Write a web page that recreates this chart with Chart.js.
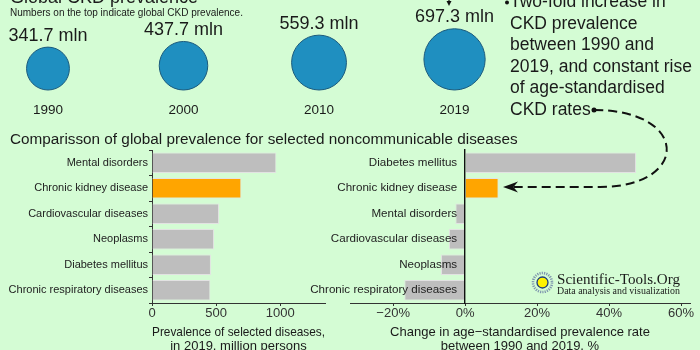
<!DOCTYPE html>
<html lang="en">
<head>
<meta charset="UTF-8" />
<title>Global CKD prevalence</title>
<script src="https://cdn.jsdelivr.net/npm/chart.js@4.4.1/dist/chart.umd.min.js"></script>
<style>
  html, body { margin: 0; padding: 0; }
  body {
    width: 700px; height: 350px; overflow: hidden; position: relative;
    background: #d4fcd4;
    font-family: "Liberation Sans", Arial, sans-serif;
  }
  canvas, svg { position: absolute; }
  #bubbles { left: 0; top: 0; }
  #prevalence { left: 0; top: 140px; }
  #change { left: 300px; top: 140px; }
  #overlay { left: 0; top: 0; pointer-events: none; }
  svg text { font-family: "Liberation Sans", Arial, sans-serif; fill: #1a1a1a; }
</style>
</head>
<body>
<canvas id="bubbles" width="520" height="125"></canvas>
<canvas id="prevalence" width="340" height="215"></canvas>
<canvas id="change" width="400" height="215"></canvas>

<svg id="overlay" width="700" height="350">
  <text x="10" y="3" font-size="18">Global CKD prevalence</text>
  <text x="10" y="15.5" font-size="10">Numbers on the top indicate global CKD prevalence.</text>

  <!-- arrow into the 2019 label -->
  <line x1="449" y1="-4" x2="449" y2="2" stroke="#111" stroke-width="1.2" />
  <polygon points="446.5,1 451.5,1 449,6" fill="#111" />

  <circle cx="507" cy="2.5" r="2" fill="#111" />
  <g font-size="17.5">
    <text x="510" y="7">Two-fold increase in</text>
    <text x="510" y="28.6">CKD prevalence</text>
    <text x="510" y="50.2">between 1990 and</text>
    <text x="510" y="71.8">2019, and constant rise</text>
    <text x="510" y="93.4">of age-standardised</text>
    <text x="510" y="115">CKD rates</text>
  </g>
  <circle cx="594" cy="110" r="2.5" fill="#111" />
  <path d="M594,110 C690,110 690,187 600,187 L514,187" fill="none" stroke="#111"
        stroke-width="2" stroke-dasharray="9 5" />
  <polygon points="503,187 518,181.5 513.5,187 518,192.5" fill="#111" />

  <text x="10" y="143.5" font-size="15.3">Comparisson of global prevalence for selected noncommunicable diseases</text>

  <!-- logo -->
  <circle cx="542.5" cy="282.5" r="9.5" fill="none" stroke="#7d93ad" stroke-width="2.6" stroke-dasharray="1.2 1.1" />
  <circle cx="542.5" cy="282.5" r="5.5" fill="#fff200" stroke="#1f3d7a" stroke-width="1.3" />
  <text x="557" y="284" font-size="15" style="font-family:'Liberation Serif',serif" textLength="123" lengthAdjust="spacingAndGlyphs">Scientific-Tools.Org</text>
  <text x="557" y="294" font-size="10" style="font-family:'Liberation Serif',serif" textLength="123" lengthAdjust="spacingAndGlyphs">Data analysis and visualization</text>
</svg>

<script>
  // global CKD prevalence, million persons
  const years = ["1990", "2000", "2010", "2019"];
  const ckdPrevalence = [341.7, 437.7, 559.3, 697.3];

  // prevalence in 2019, million persons
  const diseasesByPrevalence = [
    "Mental disorders",
    "Chronic kidney disease",
    "Cardiovascular diseases",
    "Neoplasms",
    "Diabetes mellitus",
    "Chronic respiratory diseases",
  ];
  const prevalence2019 = [970, 697.3, 523, 484, 460, 455];
  const prevalenceTicks = [0, 500, 1000];

  // change in age-standardised prevalence rate 1990-2019, %
  const diseasesByChange = [
    "Diabetes mellitus",
    "Chronic kidney disease",
    "Mental disorders",
    "Cardiovascular diseases",
    "Neoplasms",
    "Chronic respiratory diseases",
  ];
  const rateChange = [47.5, 9.3, -2.7, -4.5, -6.7, -16.9];
  const changeTicks = [-20, 0, 20, 40, 60];

  const FONT = '"Liberation Sans", Arial, sans-serif';
  const highlight = (name) =>
    name === "Chronic kidney disease" ? "#ffa500" : "#bebebe";

  // circles are sized by area and sit on a common baseline
  const bubbleK = 1.16;
  const bubbleBase = 90;
  const radii = ckdPrevalence.map((v) => bubbleK * Math.sqrt(v));

  const bubbleLabels = {
    id: "bubbleLabels",
    afterDatasetsDraw(chart) {
      const ctx = chart.ctx;
      ctx.save();
      ctx.fillStyle = "#1a1a1a";
      ctx.textAlign = "center";
      ctx.textBaseline = "middle";
      chart.getDatasetMeta(0).data.forEach((pt, i) => {
        ctx.font = "18px " + FONT;
        ctx.fillText(ckdPrevalence[i].toFixed(1) + " mln", pt.x, pt.y - radii[i] - 11.5);
        ctx.font = "13.5px " + FONT;
        ctx.fillText(years[i], pt.x, 110.5);
      });
      ctx.restore();
    },
  };

  // category names sit just left of the zero line, on top of the bars
  const zeroLineLabels = {
    id: "zeroLineLabels",
    afterDatasetsDraw(chart) {
      const { ctx, scales } = chart;
      const x0 = scales.x.getPixelForValue(0) - 8;
      ctx.save();
      ctx.fillStyle = "#222";
      ctx.font = "11.6px " + FONT;
      ctx.textAlign = "right";
      ctx.textBaseline = "middle";
      chart.data.labels.forEach((name, i) => {
        ctx.fillText(name, x0, scales.y.getPixelForValue(i));
      });
      ctx.restore();
    },
  };

  new Chart(document.getElementById("bubbles"), {
    type: "bubble",
    data: {
      datasets: [
        {
          data: ckdPrevalence.map((v, i) => ({ x: i, y: bubbleBase - radii[i], r: radii[i] })),
          backgroundColor: "#1f8fc0",
          borderColor: "#1b5a7c",
          borderWidth: 1,
          clip: false,
        },
      ],
    },
    options: {
      responsive: false,
      animation: false,
      events: [],
      layout: { padding: 0, autoPadding: false },
      plugins: { legend: { display: false }, tooltip: { enabled: false } },
      scales: {
        x: { type: "linear", display: false, min: -0.354, max: 3.483 },
        y: { type: "linear", display: false, min: 0, max: 125, reverse: true },
      },
    },
    plugins: [bubbleLabels],
  });

  function axisCommon(extra) {
    return Object.assign(
      {
        grid: { drawOnChartArea: false, tickLength: 3, color: "#333" },
        border: { color: "#333", width: 1 },
      },
      extra
    );
  }

  new Chart(document.getElementById("prevalence"), {
    type: "bar",
    data: {
      labels: diseasesByPrevalence,
      datasets: [
        {
          data: prevalence2019,
          backgroundColor: diseasesByPrevalence.map(highlight),
          borderColor: "#e2e2e2",
          borderWidth: 1,
          barPercentage: 0.8,
          categoryPercentage: 1,
        },
      ],
    },
    options: {
      indexAxis: "y",
      responsive: false,
      animation: false,
      events: [],
      layout: { padding: { top: 10, right: 15, left: 0, bottom: 0 } },
      plugins: { legend: { display: false }, tooltip: { enabled: false } },
      scales: {
        x: axisCommon({
          min: 0,
          max: 1350,
          afterBuildTicks: (s) => { s.ticks = prevalenceTicks.map((v) => ({ value: v })); },
          afterFit: (s) => { s.height = 52; },
          ticks: {
            padding: 0,
            color: "#333",
            font: { family: FONT, size: 13 },
            callback: (v) => String(v),
          },
          title: {
            display: true,
            text: ["Prevalence of selected diseases,", "in 2019, million persons"],
            color: "#1a1a1a",
            font: { family: FONT, size: 13, lineHeight: 1.1 },
            padding: { top: 0, bottom: 1 },
          },
        }),
        y: axisCommon({
          afterFit: (s) => { s.width = 152; },
          ticks: { padding: 1, color: "#222", font: { family: FONT, size: 11 } },
        }),
      },
    },
  });

  new Chart(document.getElementById("change"), {
    type: "bar",
    data: {
      labels: diseasesByChange,
      datasets: [
        {
          data: rateChange,
          backgroundColor: diseasesByChange.map(highlight),
          borderColor: "#e2e2e2",
          borderWidth: 1,
          barPercentage: 0.8,
          categoryPercentage: 1,
        },
      ],
    },
    options: {
      indexAxis: "y",
      responsive: false,
      animation: false,
      events: [],
      layout: { padding: { top: 10, right: 10, left: 50, bottom: 0 } },
      plugins: { legend: { display: false }, tooltip: { enabled: false } },
      scales: {
        x: axisCommon({
          min: -32,
          max: 62.5,
          afterBuildTicks: (s) => { s.ticks = changeTicks.map((v) => ({ value: v })); },
          afterFit: (s) => { s.height = 52; },
          ticks: {
            padding: 0,
            color: "#333",
            font: { family: FONT, size: 13 },
            callback: (v) => (v < 0 ? "\u2212" + Math.abs(v) : v) + "%",
          },
          title: {
            display: true,
            text: ["Change in age\u2212standardised prevalence rate", "between 1990 and 2019, %"],
            color: "#1a1a1a",
            font: { family: FONT, size: 13, lineHeight: 1.1 },
            padding: { top: 0, bottom: 1 },
          },
        }),
        y: {
          position: { x: 0 },
          grid: { drawOnChartArea: false, drawTicks: false },
          border: { color: "#111", width: 1.4, z: 1 },
          ticks: { display: false },
        },
      },
    },
    plugins: [zeroLineLabels],
  });
</script>
</body>
</html>
